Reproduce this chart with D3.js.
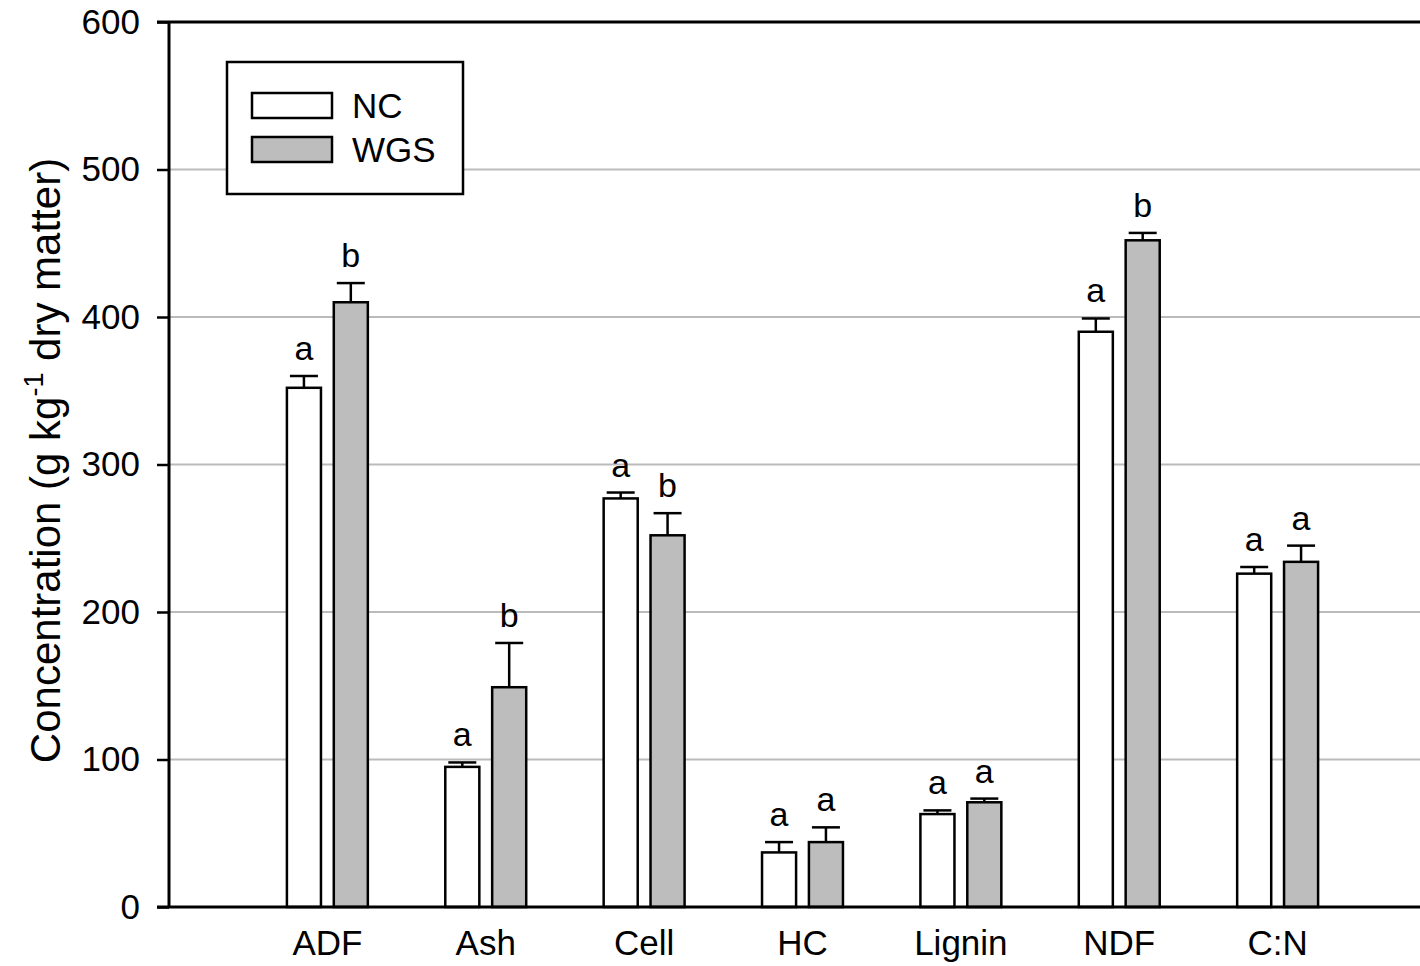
<!DOCTYPE html>
<html>
<head>
<meta charset="utf-8">
<script src="https://cdn.jsdelivr.net/npm/d3@7"></script>
<style>
  html, body { margin: 0; padding: 0; background: #fff; }
  svg text { font-family: "Liberation Sans", Arial, sans-serif; fill: #000; }
</style>
</head>
<body>
<div id="graphicContainer"></div>
<script>
const categories = ['ADF', 'Ash', 'Cell', 'HC', 'Lignin', 'NDF', 'C:N'];
const ncValues  = [352, 95, 277, 37, 63, 390, 226];
const ncErr     = [8, 3, 4, 7, 2.5, 9, 4.5];
const ncLetters = ['a', 'a', 'a', 'a', 'a', 'a', 'a'];
const wgsValues  = [410, 149, 252, 44, 71, 452, 234];
const wgsErr     = [13, 30, 15, 10, 2.5, 5, 11];
const wgsLetters = ['b', 'b', 'b', 'a', 'a', 'b', 'a'];
const yTicks = [0, 100, 200, 300, 400, 500, 600];
const seriesNames = ['NC', 'WGS'];

const Width = 1420, Height = 966;
const Margin = { t: 22, l: 169, b: 59 };
const barColor = ['#ffffff', '#bdbdbd'];
const gridColor = '#bbbbbb';

const svg = d3.select('#graphicContainer')
  .append('svg')
  .attr('width', Width)
  .attr('height', Height);

const y = d3.scaleLinear().domain([0, 600]).range([Height - Margin.b, Margin.t]);
// category slots are 1..7, plot runs to 8 (right edge falls off the picture)
const x = d3.scaleLinear().domain([0, 8]).range([Margin.l, 1436]);
const barW = 0.215, offset = 0.148;

const series = [
  { name: 'NC', vals: ncValues, err: ncErr, lab: ncLetters, off: -offset, fill: barColor[0] },
  { name: 'WGS', vals: wgsValues, err: wgsErr, lab: wgsLetters, off: offset, fill: barColor[1] }
];

// gridlines
svg.append('g').selectAll('line')
  .data(yTicks.filter(d => d > 0 && d < 600))
  .enter().append('line')
  .attr('x1', Margin.l).attr('x2', Width)
  .attr('y1', d => y(d)).attr('y2', d => y(d))
  .attr('stroke', gridColor).attr('stroke-width', 2);

// bars + errors + letters
series.forEach(s => {
  const g = svg.append('g').attr('class', 'series-' + s.name);
  const rows = categories.map((c, i) => ({ i: i + 1, v: s.vals[i], e: s.err[i], l: s.lab[i] }));
  g.selectAll('line.err').data(rows).enter().append('line')
    .attr('class', 'err')
    .attr('x1', d => x(d.i + s.off)).attr('x2', d => x(d.i + s.off))
    .attr('y1', d => y(d.v)).attr('y2', d => y(d.v + d.e))
    .attr('stroke', '#000').attr('stroke-width', 2.5);
  g.selectAll('line.cap').data(rows).enter().append('line')
    .attr('class', 'cap')
    .attr('x1', d => x(d.i + s.off) - 14).attr('x2', d => x(d.i + s.off) + 14)
    .attr('y1', d => y(d.v + d.e)).attr('y2', d => y(d.v + d.e))
    .attr('stroke', '#000').attr('stroke-width', 2.5);
  g.selectAll('rect').data(rows).enter().append('rect')
    .attr('x', d => x(d.i + s.off - barW / 2))
    .attr('width', x(barW) - x(0))
    .attr('y', d => y(d.v))
    .attr('height', d => y(0) - y(d.v))
    .attr('fill', s.fill)
    .attr('stroke', '#000').attr('stroke-width', 2.5);
  g.selectAll('text').data(rows).enter().append('text')
    .attr('x', d => x(d.i + s.off))
    .attr('y', d => y(d.v + d.e) - 16)
    .attr('text-anchor', 'middle')
    .attr('font-size', 34)
    .text(d => d.l);
});

// axes
const yAxis = svg.append('g')
  .attr('transform', `translate(${Margin.l},0)`)
  .call(d3.axisLeft(y).tickValues(yTicks).tickSize(12).tickPadding(17).tickFormat(d3.format('d')));
yAxis.select('.domain').remove();
yAxis.selectAll('.tick line').attr('stroke', '#000').attr('stroke-width', 2.5);
yAxis.selectAll('.tick text').attr('font-size', 35).attr('font-family', '"Liberation Sans", Arial, sans-serif').attr('fill', '#000');

svg.append('line')
  .attr('x1', Margin.l).attr('x2', Margin.l)
  .attr('y1', y(600)).attr('y2', y(0))
  .attr('stroke', '#000').attr('stroke-width', 3);
svg.append('line')
  .attr('x1', Margin.l - 12).attr('x2', Width)
  .attr('y1', y(600)).attr('y2', y(600))
  .attr('stroke', '#000').attr('stroke-width', 3);
svg.append('line')
  .attr('x1', Margin.l - 12).attr('x2', Width)
  .attr('y1', y(0)).attr('y2', y(0))
  .attr('stroke', '#000').attr('stroke-width', 3);

svg.append('g').selectAll('text')
  .data(categories)
  .enter().append('text')
  .attr('x', (d, i) => x(i + 1))
  .attr('y', y(0) + 48)
  .attr('text-anchor', 'middle')
  .attr('font-size', 35)
  .text(d => d);

// y label
const yLab = svg.append('text')
  .attr('transform', `translate(60, ${y(300) - 4}) rotate(-90)`)
  .attr('text-anchor', 'middle')
  .attr('font-size', 42);
yLab.append('tspan').text('Concentration (g kg');
yLab.append('tspan').attr('dy', -17).attr('font-size', 27).text('-1');
yLab.append('tspan').attr('dy', 17).text(' dry matter)');

// legend
const legend = svg.append('g').attr('transform', 'translate(227,62)');
legend.append('rect')
  .attr('width', 236).attr('height', 132)
  .attr('fill', '#fff').attr('stroke', '#000').attr('stroke-width', 2.5);
seriesNames.forEach((n, i) => {
  legend.append('rect')
    .attr('x', 25).attr('y', 31 + i * 44)
    .attr('width', 80).attr('height', 25)
    .attr('fill', barColor[i]).attr('stroke', '#000').attr('stroke-width', 2.5);
  legend.append('text')
    .attr('x', 125).attr('y', 56 + i * 44)
    .attr('font-size', 35)
    .text(n);
});
</script>
</body>
</html>
